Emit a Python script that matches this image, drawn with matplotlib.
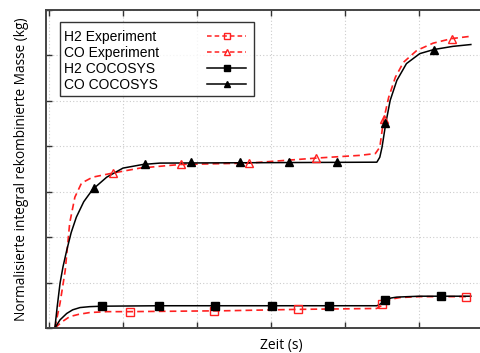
import numpy as np
import matplotlib.pyplot as plt
from matplotlib.offsetbox import DrawingArea

# curves (t in arbitrary time units, mass normalised)
co_sim_t = [0.08, 0.11, 0.15, 0.19, 0.24, 0.30, 0.37, 0.47, 0.59, 0.78, 1.00, 1.27, 1.50,
            4.43, 4.47, 4.50, 4.55, 4.61, 4.70, 4.83, 5.01, 5.20, 5.46, 5.70]
co_sim_y = [0.0, 0.45, 0.99, 1.35, 1.71, 2.10, 2.44, 2.78, 3.05, 3.32, 3.52, 3.60, 3.63,
            3.65, 3.76, 3.98, 4.50, 5.01, 5.45, 5.82, 6.04, 6.13, 6.20, 6.24]

co_exp_t = [0.08, 0.15, 0.22, 0.28, 0.35, 0.44, 0.59, 0.86, 1.23, 1.50, 1.78, 2.70, 3.61,
            4.20, 4.41, 4.47, 4.52, 4.59, 4.68, 4.79, 4.97, 5.19, 5.44, 5.69]
co_exp_y = [0.0, 0.55, 1.27, 2.31, 2.88, 3.19, 3.32, 3.41, 3.52, 3.56, 3.60, 3.63, 3.74,
            3.80, 3.84, 3.98, 4.57, 5.08, 5.52, 5.85, 6.11, 6.27, 6.37, 6.42]

h2_sim_t = [0.08, 0.15, 0.24, 0.32, 0.42, 0.55, 0.72, 1.50, 4.43, 4.47, 4.54, 4.62, 4.70, 4.85, 5.01, 5.70]
h2_sim_y = [0.0, 0.18, 0.32, 0.40, 0.45, 0.47, 0.48, 0.49, 0.49, 0.52, 0.61, 0.66, 0.68, 0.69, 0.70, 0.70]

h2_exp_t = [0.08, 0.18, 0.28, 0.40, 0.55, 0.78, 1.08, 2.40, 3.36, 4.43, 4.48, 4.52, 4.61, 4.74, 5.00, 5.70]
h2_exp_y = [0.0, 0.14, 0.25, 0.30, 0.34, 0.36, 0.36, 0.38, 0.41, 0.43, 0.48, 0.53, 0.63, 0.67, 0.69, 0.69]

# marker positions
co_sim_mt = [0.61, 1.30, 1.92, 2.58, 3.24, 3.89, 4.54, 5.20]
co_sim_my = [3.08, 3.60, 3.65, 3.65, 3.65, 3.65, 4.51, 6.13]
co_exp_mt = [0.86, 1.78, 2.70, 3.61, 4.52, 5.44]
co_exp_my = [3.41, 3.60, 3.63, 3.74, 4.61, 6.37]
h2_sim_mt = [0.72, 1.49, 2.24, 3.01, 3.78, 4.54, 5.30]
h2_sim_my = [0.48, 0.49, 0.49, 0.49, 0.49, 0.62, 0.70]
h2_exp_mt = [1.09, 2.23, 3.36, 4.50, 5.64]
h2_exp_my = [0.35, 0.38, 0.41, 0.52, 0.69]

fig = plt.figure(figsize=(4.81, 3.53), dpi=100)
W, H = 481, 353
ax = fig.add_axes([46 / W, 25 / H, (516 - 46) / W, 318 / H])

red = '#ff2020'
dash = (0, (4, 2.5))

ax.plot(h2_exp_t, h2_exp_y, color=red, ls=dash, lw=1.2)
ax.plot(co_exp_t, co_exp_y, color=red, ls=dash, lw=1.2)
ax.plot(h2_sim_t, h2_sim_y, color='black', lw=1.1)
ax.plot(co_sim_t, co_sim_y, color='black', lw=1.1)

ax.plot(h2_exp_mt, h2_exp_my, ls='none', marker='s', ms=5.5, mfc='none', mec=red, mew=1.0)
ax.plot(co_exp_mt, co_exp_my, ls='none', marker='^', ms=5.5, mfc='none', mec=red, mew=1.0)
ax.plot(h2_sim_mt, h2_sim_my, ls='none', marker='s', ms=6, color='black')
ax.plot(co_sim_mt, co_sim_my, ls='none', marker='^', ms=6, color='black')

# legend handles
ax.plot([], [], color=red, ls=(0, (3, 2)), lw=1.1, marker='s', ms=4.5, mfc='none', mec=red, label='H2 Experiment')
ax.plot([], [], color=red, ls=(0, (3, 2)), lw=1.1, marker='^', ms=4.5, mfc='none', mec=red, label='CO Experiment')
ax.plot([], [], color='black', lw=1.1, marker='s', ms=5, label='H2 COCOSYS')
ax.plot([], [], color='black', lw=1.1, marker='^', ms=5, label='CO COCOSYS')
handles, labels = ax.get_legend_handles_labels()
leg = ax.legend(handles, labels, loc='upper left', bbox_to_anchor=(13.5 / 470, 1 - 12.3 / 318),
                markerfirst=False, fancybox=False, frameon=True, handlelength=2.75,
                prop={'family': 'Liberation Sans', 'size': 10}, labelspacing=0.14,
                borderpad=0.3, handletextpad=3.5, borderaxespad=0, columnspacing=0)
leg.get_frame().set_edgecolor('black')
leg.get_frame().set_linewidth(1.0)

ax.set_xlim(-0.04, 6.31)
ax.set_ylim(0, 7)
ax.set_xticks(np.arange(0, 7))
ax.set_yticks(np.arange(0, 8))
ax.tick_params(direction='in', top=True, right=True, length=4, width=1,
               labelbottom=False, labelleft=False, color='#333333')
ax.grid(True, ls=(0, (1, 2)), color='#cccccc', lw=0.8)
for s in ax.spines.values():
    s.set_color('#444444')
    s.set_linewidth(1.4)

ax.set_xlabel('Zeit (s)', family='Open Sans', fontsize=10, labelpad=7)
ax.set_ylabel('Normalisierte integral rekombinierte Masse (kg)', family='Open Sans',
              fontsize=9.8, labelpad=12)

# left-align legend texts while keeping the handles in one column
fig.canvas.draw()
r = fig.canvas.get_renderer()
cols = leg._legend_handle_box.get_children()
rows = [row for col in cols for row in col.get_children()]
widths = [row.get_children()[0].get_window_extent(r).width for row in rows]
mw = max(widths)
for col in cols:
    col.align = 'left'
    col.get_children().insert(0, DrawingArea(0, 1.1))
for row, w in zip(rows, widths):
    row.sep = row.sep + (mw - w) * 72 / fig.dpi
# a bit of extra room at the right edge of the box
leg._legend_handle_box.get_children().append(DrawingArea(2.8, 0))

fig.savefig('out.png', dpi=100)
